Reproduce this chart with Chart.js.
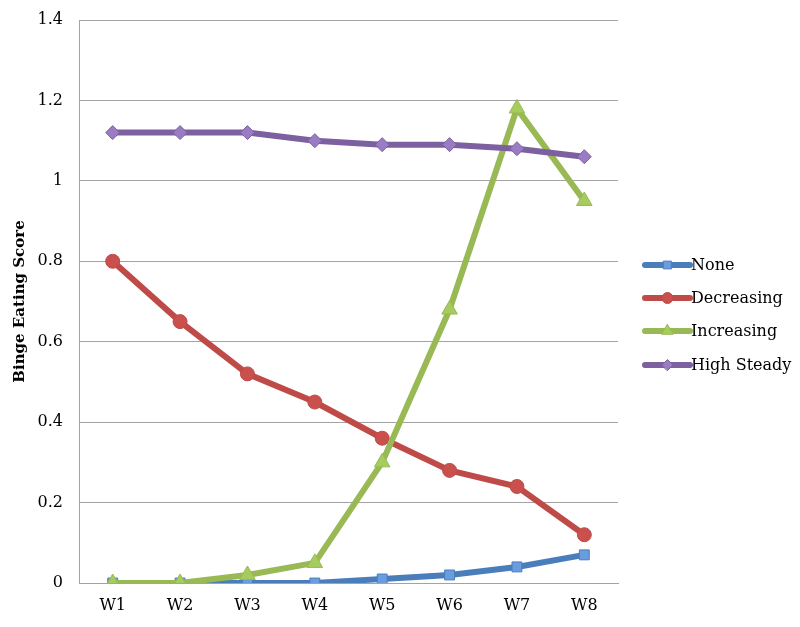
<!DOCTYPE html>
<html>
<head>
<meta charset="utf-8">
<script src="https://cdn.jsdelivr.net/npm/chart.js@4"></script>
<style>
html,body{margin:0;padding:0;background:#fff;}
#wrap{width:800px;height:627px;position:relative;}
</style>
</head>
<body>
<div id="wrap"><canvas id="c" width="800" height="627"></canvas></div>
<script>
const categories = ['W1','W2','W3','W4','W5','W6','W7','W8'];
const noneVals = [0, 0, 0, 0, 0.01, 0.02, 0.04, 0.07];
const decreasingVals = [0.80, 0.65, 0.52, 0.45, 0.36, 0.28, 0.24, 0.12];
const increasingVals = [0, 0, 0.02, 0.05, 0.30, 0.68, 1.18, 0.95];
const highSteadyVals = [1.12, 1.12, 1.12, 1.10, 1.09, 1.09, 1.08, 1.06];
const seriesNames = ['None','Decreasing','Increasing','High Steady'];
const yTicks = [0, 0.2, 0.4, 0.6, 0.8, 1, 1.2, 1.4];

const FONT = "'DejaVu Serif', 'Liberation Serif', serif";

function ds(label, data, line, fill, style, radius, order) {
  return {
    label, data, order,
    borderColor: line, backgroundColor: fill,
    pointBackgroundColor: fill, pointBorderColor: line,
    pointBorderWidth: 1, borderWidth: 6,
    pointStyle: style, pointRadius: radius, pointHoverRadius: radius,
    tension: 0, fill: false
  };
}

const legendPlugin = {
  id: 'customLegend',
  afterDraw(chart) {
    const ctx = chart.ctx;
    const x0 = 645, lineW = 45, ys = [265, 298, 331, 365];
    chart.data.datasets.forEach((d, i) => {
      const y = ys[i];
      ctx.save();
      ctx.strokeStyle = d.borderColor;
      ctx.lineWidth = 6;
      ctx.lineCap = 'round';
      ctx.beginPath(); ctx.moveTo(x0, y); ctx.lineTo(x0 + lineW, y); ctx.stroke();
      ctx.fillStyle = d.pointBackgroundColor;
      ctx.strokeStyle = d.pointBorderColor;
      ctx.lineWidth = 1;
      Chart.helpers.drawPoint(ctx, {
        pointStyle: d.pointStyle, radius: d.pointStyle === 'triangle' ? 6.5 : 5.5, rotation: 0, borderWidth: 1
      }, x0 + lineW / 2, y);
      ctx.fillStyle = '#000';
      ctx.font = "16px " + FONT;
      ctx.textBaseline = 'middle';
      ctx.textAlign = 'left';
      ctx.fillText(seriesNames[i], x0 + lineW + 1, y + 1);
      ctx.restore();
    });
  }
};

new Chart(document.getElementById('c'), {
  type: 'line',
  data: {
    labels: categories,
    datasets: [
      ds(seriesNames[0], noneVals, '#4a7ebb', '#6a9de0', 'rect', 7, 4),
      ds(seriesNames[1], decreasingVals, '#be4b48', '#c9504d', 'circle', 7, 3),
      ds(seriesNames[2], increasingVals, '#98b954', '#a6cc5e', 'triangle', 9, 2),
      ds(seriesNames[3], highSteadyVals, '#7d60a0', '#9a7cc4', 'rectRot', 7, 1)
    ]
  },
  options: {
    responsive: false,
    animation: false,
    events: [],
    layout: { padding: { left: 0, right: 182, top: 20, bottom: 0 } },
    plugins: { legend: { display: false }, tooltip: { enabled: false } },
    scales: {
      x: {
        offset: true,
        grid: { display: false, drawTicks: false },
        border: { display: true, color: '#a3a3a3', width: 1 },
        ticks: { color: '#000', font: { family: FONT, size: 16 }, padding: 13 },
        afterFit(s) { s.height = 44; }
      },
      y: {
        min: 0, max: 1.4,
        afterBuildTicks(s) { s.ticks = yTicks.map(v => ({ value: v })); },
        grid: { color: '#a3a3a3', lineWidth: 1, drawTicks: false },
        border: { display: true, color: '#a3a3a3', width: 1 },
        ticks: { color: '#000', font: { family: FONT, size: 16 }, padding: 16, callback: v => String(v) },
        title: { display: true, text: 'Binge Eating Score', color: '#000', font: { family: FONT, size: 15, weight: 'bold' }, padding: { top: 11, bottom: 4 } },
        afterFit(s) { s.width = 79; s.paddingTop = 0; s.paddingBottom = 0; }
      }
    }
  },
  plugins: [legendPlugin]
});
</script>
</body>
</html>
